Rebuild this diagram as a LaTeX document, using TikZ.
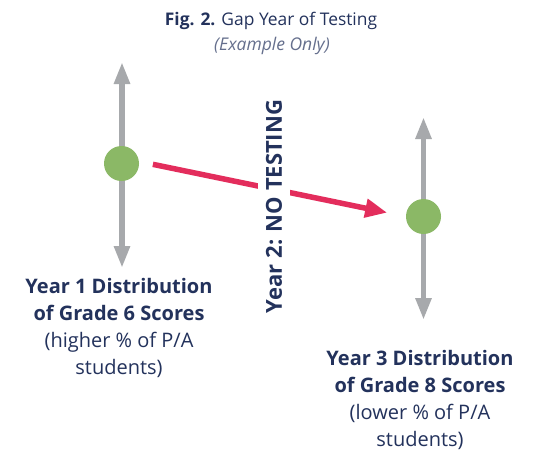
\documentclass[tikz,border=0pt]{standalone}
\usepackage{fontspec}
\setmainfont{Open Sans}
\usetikzlibrary{arrows.meta}
\definecolor{inkblue}{RGB}{35,50,92}
\definecolor{rangegray}{RGB}{167,169,172}
\definecolor{dotgreen}{RGB}{139,184,102}
\definecolor{trendpink}{RGB}{227,45,92}
\tikzset{
  spread/.style={draw=rangegray,line width=5.5pt,
    {Triangle[length=22pt,width=15pt]}-{Triangle[length=22pt,width=15pt]}},
  dot/.style={circle,fill=dotgreen,minimum size=35pt,inner sep=0pt},
  trend/.style={draw=trendpink,line width=5.5pt,-{Triangle[length=22pt,width=18pt]}},
  caption/.style={text=inkblue,align=center,anchor=north,inner sep=0pt,
    font=\fontsize{20}{27}\selectfont}
}
\begin{document}
\begin{tikzpicture}[x=1pt,y=-1pt]
\useasboundingbox[fill=white] (0,0) rectangle (533,451);
% title
\node[text=inkblue,anchor=base,inner sep=0pt,font=\fontsize{17.4}{20}\selectfont] (title) at (271,25) {\textbf{Fig. 2.} Gap Year of Testing};
\node[text=inkblue!70,anchor=base,inner sep=0pt,font=\fontsize{17.5}{20}\selectfont\itshape] (sub) at (272,50) {(Example Only)};
% score ranges
\coordinate (top1) at (122,62);
\coordinate (bot1) at (122,268);
\coordinate (top3) at (423.5,117);
\coordinate (bot3) at (423.5,320);
\draw[spread] (top1) -- (bot1);
\draw[spread] (top3) -- (bot3);
\node[dot] (g1) at (121.5,163.5) {};
\node[dot] (g3) at (423.5,216.5) {};
% year 2
\draw[trend,shorten <=14pt,shorten >=19pt] ([yshift=2]g1.east) -- (g3.west);
\node[rotate=90,fill=white,inner sep=8pt,text=inkblue,font=\fontsize{22}{26}\selectfont\bfseries] (gap) at (274,206.5) {Year 2: NO TESTING};
% captions
\node[caption] (cap1) at (119,278) {\textbf{Year 1 Distribution}\\\textbf{of Grade 6 Scores}\\(higher \% of P/A\\students)};
\node[caption] (cap3) at (420,350) {\textbf{Year 3 Distribution}\\\textbf{of Grade 8 Scores}\\(lower \% of P/A\\students)};
\end{tikzpicture}
\end{document}
